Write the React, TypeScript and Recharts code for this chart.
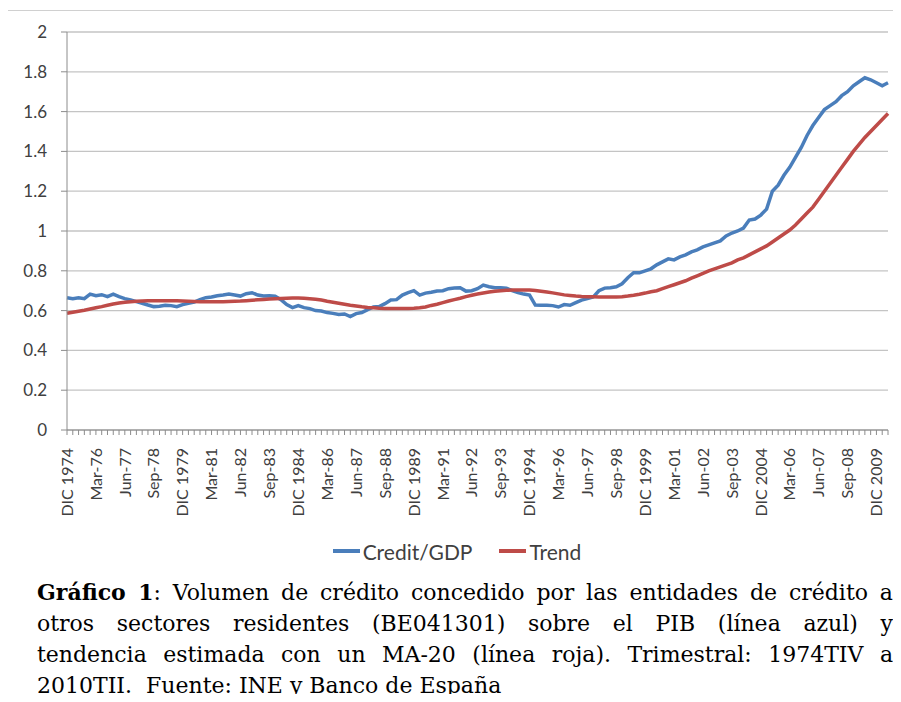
import React from 'react';
import { CartesianGrid, Legend, Line, LineChart, XAxis, YAxis } from 'recharts';

// one label every 5 quarters, starting at DIC 1974
const tickLabels = [
  'DIC 1974', 'Mar-76', 'Jun-77', 'Sep-78', 'DIC 1979', 'Mar-81', 'Jun-82', 'Sep-83',
  'DIC 1984', 'Mar-86', 'Jun-87', 'Sep-88', 'DIC 1989', 'Mar-91', 'Jun-92', 'Sep-93',
  'DIC 1994', 'Mar-96', 'Jun-97', 'Sep-98', 'DIC 1999', 'Mar-01', 'Jun-02', 'Sep-03',
  'DIC 2004', 'Mar-06', 'Jun-07', 'Sep-08', 'DIC 2009',
];

const creditGdp = [
  0.665, 0.66, 0.665, 0.66, 0.683, 0.675, 0.68, 0.67, 0.683, 0.67,
  0.66, 0.653, 0.645, 0.637, 0.628, 0.62, 0.622, 0.627, 0.625, 0.62,
  0.63, 0.637, 0.643, 0.655, 0.665, 0.668, 0.675, 0.678, 0.683, 0.678,
  0.673, 0.685, 0.69, 0.678, 0.673, 0.675, 0.672, 0.655, 0.63, 0.615,
  0.625, 0.615, 0.61, 0.6, 0.598, 0.59, 0.586, 0.58, 0.583, 0.57,
  0.585, 0.59, 0.605, 0.618, 0.62, 0.635, 0.653, 0.655, 0.678, 0.69,
  0.7, 0.678, 0.688, 0.692, 0.698, 0.7, 0.71, 0.713, 0.715, 0.698,
  0.7, 0.71, 0.728, 0.72, 0.715, 0.715, 0.713, 0.7, 0.69, 0.683,
  0.678, 0.628, 0.627, 0.627, 0.625, 0.618, 0.63, 0.627, 0.64, 0.653,
  0.66, 0.668, 0.7, 0.713, 0.715, 0.72, 0.735, 0.765, 0.79, 0.79,
  0.8, 0.81, 0.83, 0.845, 0.86, 0.855, 0.87, 0.88, 0.895, 0.905,
  0.92, 0.93, 0.94, 0.95, 0.975, 0.99, 1.0, 1.015, 1.055, 1.06,
  1.08, 1.11, 1.2, 1.23, 1.28, 1.32, 1.37, 1.42, 1.48, 1.53,
  1.57, 1.61, 1.63, 1.65, 1.68, 1.7, 1.73, 1.75, 1.77, 1.76,
  1.745, 1.73, 1.745,
];

const trend = [
  0.587, 0.592, 0.597, 0.602, 0.608, 0.614, 0.62, 0.627, 0.633, 0.638,
  0.642, 0.645, 0.647, 0.648, 0.649, 0.65, 0.65, 0.65, 0.65, 0.649,
  0.648, 0.647, 0.646, 0.645, 0.645, 0.645, 0.645, 0.645, 0.646, 0.647,
  0.648, 0.65, 0.652, 0.654, 0.656, 0.658, 0.66, 0.661, 0.662, 0.663,
  0.663, 0.662, 0.66, 0.657, 0.653, 0.647, 0.642, 0.637, 0.632, 0.627,
  0.623, 0.619, 0.616, 0.614, 0.612, 0.611, 0.61, 0.61, 0.61, 0.611,
  0.612, 0.614, 0.618, 0.626, 0.632, 0.64, 0.648, 0.655, 0.662, 0.67,
  0.677, 0.683, 0.688, 0.693, 0.697, 0.7, 0.702, 0.703, 0.704, 0.704,
  0.703, 0.701, 0.697, 0.693, 0.689, 0.684, 0.679, 0.676, 0.673, 0.671,
  0.67, 0.669, 0.668, 0.668, 0.668, 0.668, 0.67, 0.673, 0.677, 0.682,
  0.688, 0.695, 0.7, 0.71, 0.72, 0.73, 0.74, 0.75, 0.763, 0.775,
  0.787, 0.8, 0.81, 0.82, 0.83, 0.84, 0.855, 0.865, 0.88, 0.895,
  0.91, 0.925, 0.945, 0.965, 0.985, 1.005, 1.03, 1.06, 1.09, 1.12,
  1.16, 1.2, 1.24, 1.28, 1.32, 1.36, 1.4, 1.435, 1.47, 1.5,
  1.53, 1.56, 1.59,
];

const yTicks = [0, 0.2, 0.4, 0.6, 0.8, 1, 1.2, 1.4, 1.6, 1.8, 2];

const captionLines = [
  'Volumen de crédito concedido por las entidades de crédito a',
  'otros sectores residentes (BE041301) sobre el PIB (línea azul) y',
  'tendencia estimada con un MA-20 (línea roja). Trimestral: 1974TIV a',
  '2010TII.  Fuente: INE y Banco de España',
];

const BLUE = '#4a7ebb';
const RED = '#be4b48';
const AXIS = '#8c8c8c';
const TEXT = '#404040';
const FONT = 'Lato, sans-serif';

// quarterly categories from 1974 Q4
const data = creditGdp.map((v, i) => {
  const q = 3 + i;
  return {
    quarter: `${1974 + Math.floor(q / 4)}Q${(q % 4) + 1}`,
    credit: v,
    trend: trend[i],
  };
});

const QuarterTick = (props: any) => {
  const { x, y, index } = props;
  if (index % 5 !== 0) return <g />;
  return (
    <text
      x={x}
      y={y}
      transform={`rotate(-90 ${x} ${y})`}
      textAnchor="end"
      dy="0.36em"
      fontFamily={FONT}
      fontSize={16}
      fill={TEXT}
    >
      {tickLabels[index / 5]}
    </text>
  );
};

const LegendBox = () => (
  <div
    style={{
      height: 24,
      display: 'flex',
      justifyContent: 'center',
      alignItems: 'center',
      paddingLeft: 18,
      fontFamily: FONT,
      fontSize: 21,
      color: TEXT,
    }}
  >
    <span style={{ display: 'inline-block', width: 27, height: 4, background: BLUE, marginRight: 3 }} />
    <span style={{ marginRight: 27 }}>Credit/GDP</span>
    <span style={{ display: 'inline-block', width: 27, height: 4, background: RED, marginRight: 3 }} />
    <span>Trend</span>
  </div>
);

export default function App() {
  return (
    <div style={{ position: 'relative', width: 885, height: 686 }}>
      <div
        style={{
          position: 'absolute',
          left: -1,
          top: 2,
          width: 900,
          height: 700,
          borderTop: '1px solid #d0d0d0',
          borderLeft: '1px solid #d0d0d0',
        }}
      />
      <div style={{ position: 'absolute', left: 0, top: 0 }}>
        <LineChart width={885} height={560} data={data} margin={{ top: 24, right: 5, left: 0, bottom: 5 }}>
          <CartesianGrid vertical={false} stroke="#c4c4c4" strokeWidth={1.3} />
          <XAxis
            dataKey="quarter"
            interval={0}
            height={109}
            tick={<QuarterTick />}
            tickSize={5}
            tickMargin={13}
            stroke={AXIS}
          />
          <YAxis
            width={59}
            domain={[0, 2]}
            ticks={yTicks}
            tickSize={6}
            tickMargin={14}
            stroke={AXIS}
            tick={{ fontFamily: FONT, fontSize: 17, fill: TEXT }}
          />
          <Legend verticalAlign="bottom" content={<LegendBox />} />
          <Line
            type="linear"
            dataKey="credit"
            name="Credit/GDP"
            stroke={BLUE}
            strokeWidth={3.5}
            dot={false}
            isAnimationActive={false}
          />
          <Line
            type="linear"
            dataKey="trend"
            name="Trend"
            stroke={RED}
            strokeWidth={3.5}
            dot={false}
            isAnimationActive={false}
          />
        </LineChart>
      </div>
      <div
        style={{
          position: 'absolute',
          left: 29,
          top: 569,
          width: 856,
          fontFamily: '"DejaVu Serif", serif',
          fontSize: 22,
          lineHeight: '31px',
          color: '#000',
        }}
      >
        {captionLines.map((line, i) => (
          <div
            key={i}
            style={{
              textAlign: 'justify',
              textAlignLast: i < captionLines.length - 1 ? 'justify' : 'left',
              whiteSpace: 'pre-wrap',
            }}
          >
            {i === 0 && <b>Gráfico 1</b>}
            {i === 0 ? ': ' + line : line}
          </div>
        ))}
      </div>
    </div>
  );
}
